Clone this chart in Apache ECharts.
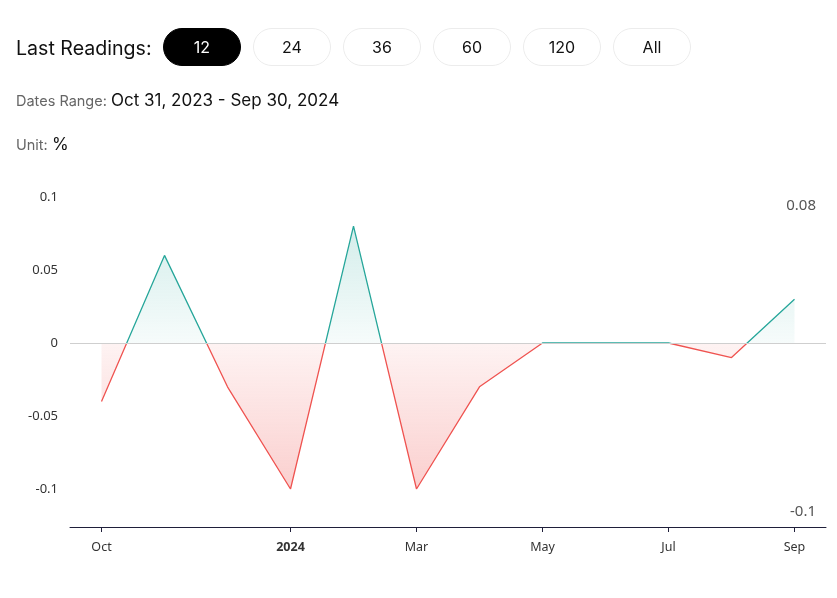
<!DOCTYPE html>
<html>
<head>
<meta charset="utf-8">
<script src="https://cdn.jsdelivr.net/npm/echarts@6/dist/echarts.min.js"></script>
<style>
  html,body{margin:0;padding:0;background:#fff;width:837px;height:598px;overflow:hidden;font-family:Inter,"Noto Sans",sans-serif;}
  #hdr{position:absolute;left:0;top:0;width:837px;height:170px;}
  .lbl{position:absolute;left:16px;top:35px;font-size:19.6px;color:#111;line-height:26px;}
  .pill{position:absolute;top:28px;width:76px;height:36px;border:1px solid #ececec;border-radius:19px;text-align:center;line-height:36px;font-size:16px;color:#111;box-sizing:content-box;}
  .pill.on{background:#000;color:#fff;border-color:#000;}
  .row{position:absolute;left:16px;font-size:14.5px;color:#666;}
  .row b{font-weight:400;color:#111;font-size:17px;}
  #chart{position:absolute;left:0;top:0;width:837px;height:598px;}
</style>
</head>
<body>
<div id="chart"></div>
<div id="hdr">
  <div class="lbl">Last Readings:</div>
  <div class="pill on" style="left:163px">12</div>
  <div class="pill" style="left:253px">24</div>
  <div class="pill" style="left:343px">36</div>
  <div class="pill" style="left:433px">60</div>
  <div class="pill" style="left:523px">120</div>
  <div class="pill" style="left:613px">All</div>
  <div class="row" style="top:90px">Dates Range: <b>Oct 31, 2023 - Sep 30, 2024</b></div>
  <div class="row" style="top:134px">Unit: <b>%</b></div>
</div>
<script>
const months = ["Oct","Nov","Dec","2024","Feb","Mar","Apr","May","Jun","Jul","Aug","Sep"];
const values = [-0.04, 0.06, -0.03, -0.1, 0.08, -0.1, -0.03, 0, 0, 0, -0.01, 0.03];
const shownLabelIdx = [0, 3, 5, 7, 9, 11];
const yTicks = [-0.1, -0.05, 0, 0.05, 0.1];
const maxLabel = "0.08";
const minLabel = "-0.1";

const GREEN = '#26a69a';
const RED = '#ef5350';
const GRID_TOP = 197, GRID_BOTTOM_Y = 489;

const chart = echarts.init(document.getElementById('chart'), null, {renderer: 'canvas'});
const showIdx = (i) => shownLabelIdx.indexOf(i) >= 0;

chart.setOption({
  animation: false,
  grid: {left: 70, right: 11, top: GRID_TOP, bottom: 598 - GRID_BOTTOM_Y, containLabel: false},
  xAxis: {
    type: 'category',
    data: months,
    boundaryGap: true,
    offset: 38,
    axisLine: {onZero: false, lineStyle: {color: '#1f1f3a', width: 1}},
    axisTick: {show: true, alignWithLabel: true, interval: (i) => showIdx(i), length: 5, lineStyle: {color: '#1f1f3a'}},
    axisLabel: {
      interval: (i) => showIdx(i),
      margin: 14,
      fontFamily: '"Noto Sans", sans-serif',
      fontSize: 12.5,
      color: '#333',
      formatter: (v) => /^\d{4}$/.test(v) ? '{b|' + v + '}' : v,
      rich: {b: {fontWeight: 'bold', fontSize: 12.5, color: '#333', fontFamily: '"Noto Sans", sans-serif'}}
    },
    splitLine: {show: false}
  },
  yAxis: {
    type: 'value',
    min: yTicks[0],
    max: yTicks[yTicks.length - 1],
    interval: 0.05,
    axisLine: {show: false},
    axisTick: {show: false},
    splitLine: {show: false},
    axisLabel: {
      margin: 12,
      fontFamily: '"Noto Sans", sans-serif',
      fontSize: 13,
      color: '#333',
      formatter: (v) => String(Math.round(v * 100) / 100)
    }
  },
  graphic: [
    {type: 'text', right: 21, top: 198, style: {text: maxLabel, fontSize: 15, fill: '#555', fontFamily: '"Noto Sans", sans-serif'}},
    {type: 'text', right: 21, top: 504, style: {text: minLabel, fontSize: 15, fill: '#555', fontFamily: '"Noto Sans", sans-serif'}}
  ],
  series: [{
    type: 'line',
    data: values,
    symbol: 'none',
    lineStyle: {
      width: 1.3,
      color: new echarts.graphic.LinearGradient(0, GRID_TOP, 0, GRID_BOTTOM_Y, [
        {offset: 0, color: GREEN},
        {offset: 0.503, color: GREEN},
        {offset: 0.503, color: RED},
        {offset: 1, color: RED}
      ], true)
    },
    areaStyle: {
      opacity: 1,
      color: new echarts.graphic.LinearGradient(0, GRID_TOP, 0, GRID_BOTTOM_Y, [
        {offset: 0, color: 'rgba(38,166,154,0.24)'},
        {offset: 0.5, color: 'rgba(38,166,154,0.04)'},
        {offset: 0.5, color: 'rgba(239,83,80,0.07)'},
        {offset: 1, color: 'rgba(239,83,80,0.28)'}
      ], true)
    },
    markLine: {
      silent: true,
      symbol: 'none',
      label: {show: false},
      lineStyle: {color: '#cfcfcf', width: 1, type: 'solid'},
      data: [{yAxis: 0}]
    },
    z: 3
  }]
});
</script>
</body>
</html>
